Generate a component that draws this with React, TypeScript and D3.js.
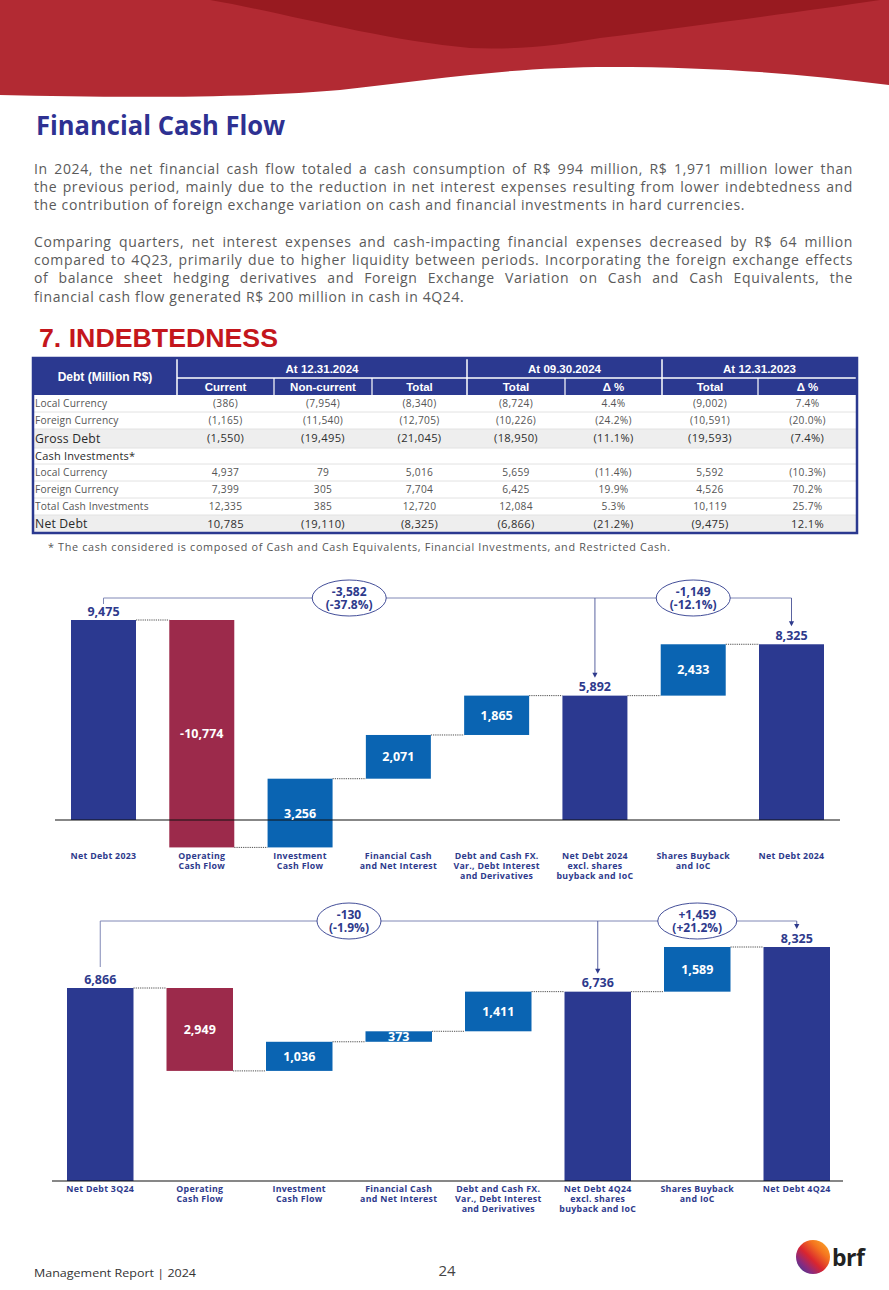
import React, { useEffect, useRef } from 'react';
import * as d3 from 'd3';

const W = 889;
const H = 1290;

// ---------- Text content ----------
const titleText = 'Financial Cash Flow';
const sectionTitle = '7. INDEBTEDNESS';
const para1Lines = [
  'In 2024, the net financial cash flow totaled a cash consumption of R$ 994 million, R$ 1,971 million lower than',
  'the previous period, mainly due to the reduction in net interest expenses resulting from lower indebtedness and',
  'the contribution of foreign exchange variation on cash and financial investments in hard currencies.',
];
const para2Lines = [
  'Comparing quarters, net interest expenses and cash-impacting financial expenses decreased by R$ 64 million',
  'compared to 4Q23, primarily due to higher liquidity between periods. Incorporating the foreign exchange effects',
  'of balance sheet hedging derivatives and Foreign Exchange Variation on Cash and Cash Equivalents, the',
  'financial cash flow generated R$ 200 million in cash in 4Q24.',
];
const footnote = '* The cash considered is composed of Cash and Cash Equivalents, Financial Investments, and Restricted Cash.';
const footerLeft = 'Management Report | 2024';
const pageNumber = '24';

// ---------- Table data ----------
const tableCorner = 'Debt (Million R$)';
const tableGroups = ['At 12.31.2024', 'At 09.30.2024', 'At 12.31.2023'];
const tableGroupSpans = [3, 2, 2];
const tableSubHeaders = ['Current', 'Non-current', 'Total', 'Total', 'Δ %', 'Total', 'Δ %'];
const rowLabels = ['Local Currency', 'Foreign Currency', 'Gross Debt', 'Cash Investments*', 'Local Currency', 'Foreign Currency', 'Total Cash Investments', 'Net Debt'];
const rowKinds = ['normal', 'normal', 'strong', 'section', 'normal', 'normal', 'normal', 'strong'];
const colCurrent = ['(386)', '(1,165)', '(1,550)', '', '4,937', '7,399', '12,335', '10,785'];
const colNonCurrent = ['(7,954)', '(11,540)', '(19,495)', '', '79', '305', '385', '(19,110)'];
const colTotal2024 = ['(8,340)', '(12,705)', '(21,045)', '', '5,016', '7,704', '12,720', '(8,325)'];
const colTotal0924 = ['(8,724)', '(10,226)', '(18,950)', '', '5,659', '6,425', '12,084', '(6,866)'];
const colDelta0924 = ['4.4%', '(24.2%)', '(11.1%)', '', '(11.4%)', '19.9%', '5.3%', '(21.2%)'];
const colTotal1223 = ['(9,002)', '(10,591)', '(19,593)', '', '5,592', '4,526', '10,119', '(9,475)'];
const colDelta1223 = ['7.4%', '(20.0%)', '(7.4%)', '', '(10.3%)', '70.2%', '25.7%', '12.1%'];
const tableColumns = [colCurrent, colNonCurrent, colTotal2024, colTotal0924, colDelta0924, colTotal1223, colDelta1223];

// ---------- Waterfall 1 (annual) ----------
const wf1Categories = [
  ['Net Debt 2023'],
  ['Operating', 'Cash Flow'],
  ['Investment', 'Cash Flow'],
  ['Financial Cash', 'and Net Interest'],
  ['Debt and Cash FX.', 'Var., Debt Interest', 'and Derivatives'],
  ['Net Debt 2024', 'excl. shares', 'buyback and IoC'],
  ['Shares Buyback', 'and IoC'],
  ['Net Debt 2024'],
];
const wf1Values = [9475, -10774, 3256, 2071, 1865, 5892, 2433, 8325];
const wf1Kinds = ['total', 'neg', 'pos', 'pos', 'pos', 'total', 'pos', 'total'];
const wf1Labels = ['9,475', '-10,774', '3,256', '2,071', '1,865', '5,892', '2,433', '8,325'];
const wf1Brackets = [
  { from: 0, to: 5, lines: ['-3,582', '(-37.8%)'] },
  { from: 5, to: 7, lines: ['-1,149', '(-12.1%)'] },
];

// ---------- Waterfall 2 (quarterly) ----------
const wf2Categories = [
  ['Net Debt 3Q24'],
  ['Operating', 'Cash Flow'],
  ['Investment', 'Cash Flow'],
  ['Financial Cash', 'and Net Interest'],
  ['Debt and Cash FX.', 'Var., Debt Interest', 'and Derivatives'],
  ['Net Debt 4Q24', 'excl. shares', 'buyback and IoC'],
  ['Shares Buyback', 'and IoC'],
  ['Net Debt 4Q24'],
];
const wf2Values = [6866, -2949, 1036, 373, 1411, 6736, 1589, 8325];
const wf2Kinds = ['total', 'neg', 'pos', 'pos', 'pos', 'total', 'pos', 'total'];
const wf2Labels = ['6,866', '2,949', '1,036', '373', '1,411', '6,736', '1,589', '8,325'];
const wf2Brackets = [
  { from: 0, to: 5, lines: ['-130', '(-1.9%)'] },
  { from: 5, to: 7, lines: ['+1,459', '(+21.2%)'] },
];

// ---------- Styles ----------
const NAVY = '#2b3990';
const LABEL_BLUE = '#2e3a8c';
const RED_BAR = '#9c2a4b';
const BLUE_BAR = '#0a64b2';
const BODY_FONT = '"Open Sans", "DejaVu Sans", sans-serif';
const HEAD_FONT = '"Liberation Sans", Arial, sans-serif';

type WFLayout = {
  x0: number; x1: number; padInner: number;
  yBase: number; yTop: number;
  axisX0: number; axisX1: number;
  bracketY: number; catY: number;
  startDrop: number; rx: number[];
};

function Waterfall({ categories, values, kinds, labels, brackets, L }: any) {
  const lay: WFLayout = L;
  const n = values.length;
  const x = d3.scaleBand<number>().domain(d3.range(n)).range([lay.x0, lay.x1]).paddingInner(lay.padInner).paddingOuter(0);
  const topVal = values[0] > values[n - 1] ? values[0] : values[n - 1];
  const y = d3.scaleLinear().domain([0, topVal]).range([lay.yBase, lay.yTop]);
  const bw = x.bandwidth();
  let run = 0;
  const bars = values.map((v: number, i: number) => {
    if (kinds[i] === 'total') { run = v; return { start: 0, end: v }; }
    const b = { start: run, end: run + v }; run += v; return b;
  });
  const cx = (i: number) => (x(i) as number) + bw / 2;
  const top = (i: number) => y(Math.max(bars[i].start, bars[i].end));
  const color = (k: string) => (k === 'total' ? NAVY : k === 'neg' ? RED_BAR : BLUE_BAR);
  const firstFrom = brackets[0].from;
  const lastTo = brackets[brackets.length - 1].to;
  return (
    <g>
      {/* bracket line */}
      <line x1={cx(firstFrom)} x2={cx(lastTo)} y1={lay.bracketY} y2={lay.bracketY} stroke="#8088b6" strokeWidth={1} />
      <line x1={cx(firstFrom)} x2={cx(firstFrom)} y1={lay.bracketY} y2={top(firstFrom) - lay.startDrop} stroke="#8088b6" strokeWidth={1} />
      {brackets.map((b: any, k: number) => {
        const tip = top(b.to) - 18;
        const ax = cx(b.to);
        return (
          <g key={'arr' + k}>
            <line x1={ax} x2={ax} y1={lay.bracketY} y2={tip - 4} stroke="#5a63a0" strokeWidth={1} />
            <path d={`M${ax - 2.6},${tip - 5} L${ax + 2.6},${tip - 5} L${ax},${tip} Z`} fill={LABEL_BLUE} />
          </g>
        );
      })}
      {brackets.map((b: any, k: number) => {
        const mx = (cx(b.from) + cx(b.to)) / 2;
        return (
          <g key={'ell' + k}>
            <ellipse cx={mx} cy={lay.bracketY} rx={lay.rx[k]} ry={18} fill="#fff" stroke={LABEL_BLUE} strokeWidth={0.9} />
            <text textAnchor="middle" fontFamily={BODY_FONT} fontWeight={700} fontSize={12} fill={LABEL_BLUE}>
              <tspan x={mx} y={lay.bracketY - 2.5}>{b.lines[0]}</tspan>
              <tspan x={mx} y={lay.bracketY + 10.5}>{b.lines[1]}</tspan>
            </text>
          </g>
        );
      })}
      {/* connectors */}
      {bars.slice(0, n - 1).map((b: any, i: number) => (
        <line key={'c' + i} x1={(x(i) as number) + bw} x2={x(i + 1) as number} y1={y(b.end)} y2={y(b.end)} stroke="#222" strokeWidth={0.8} strokeDasharray="1.2,1" />
      ))}
      {/* bars */}
      {bars.map((b: any, i: number) => {
        const y0 = y(Math.max(b.start, b.end));
        const y1 = y(Math.min(b.start, b.end));
        return <rect key={'b' + i} x={x(i) as number} y={y0} width={bw} height={y1 - y0} fill={color(kinds[i])} />;
      })}
      {/* axis */}
      <line x1={lay.axisX0} x2={lay.axisX1} y1={lay.yBase} y2={lay.yBase} stroke="#111" strokeWidth={1.2} />
      {/* value labels */}
      {bars.map((b: any, i: number) => {
        if (kinds[i] === 'total') {
          return <text key={'v' + i} x={cx(i)} y={top(i) - 4.5} textAnchor="middle" fontFamily={BODY_FONT} fontWeight={700} fontSize={12.5} fill={LABEL_BLUE}>{labels[i]}</text>;
        }
        const mid = (y(b.start) + y(b.end)) / 2;
        return <text key={'v' + i} x={cx(i)} y={mid} dy="0.36em" textAnchor="middle" fontFamily={BODY_FONT} fontWeight={700} fontSize={12.5} fill="#fff">{labels[i]}</text>;
      })}
      {/* category labels */}
      {categories.map((lines: string[], i: number) => (
        <text key={'k' + i} textAnchor="middle" fontFamily={BODY_FONT} fontWeight={700} fontSize={8.8} letterSpacing={0.3} fill={LABEL_BLUE}>
          {lines.map((t, j) => <tspan key={j} x={cx(i)} y={lay.catY + j * 10}>{t}</tspan>)}
        </text>
      ))}
    </g>
  );
}

const wf1Layout: WFLayout = { x0: 71, x1: 824, padInner: 0.3387, yBase: 820, yTop: 620, axisX0: 55, axisX1: 840, bracketY: 598, catY: 859, startDrop: 16, rx: [37, 37] };
const wf2Layout: WFLayout = { x0: 67, x1: 830, padInner: 0.3317, yBase: 1181, yTop: 947, axisX0: 52, axisX1: 843, bracketY: 921, catY: 1192, startDrop: 21, rx: [32, 39.5] };

function Table() {
  const colEdges = [33, 177, 274, 372, 467, 565, 662, 758, 857];
  const rowHeights = [17, 17, 19, 16, 17, 17, 17, 18];
  const headTop = 358, headMid = 378, headBot = 395;
  const rowTops: number[] = [];
  let acc = headBot;
  rowHeights.forEach((h) => { rowTops.push(acc); acc += h; });
  const bottom = acc;
  const groupEdges: number[] = [colEdges[1]];
  let gi = 1;
  tableGroupSpans.forEach((s) => { gi += s; groupEdges.push(colEdges[gi]); });
  return (
    <g>
      <rect x={33} y={headTop} width={824} height={headBot - headTop} fill={NAVY} />
      {rowKinds.map((k, i) => k === 'strong' ? <rect key={'bg' + i} x={33} y={rowTops[i]} width={824} height={rowHeights[i]} fill="#eeeeee" /> : null)}
      {rowTops.slice(1).map((t, i) => <line key={'rl' + i} x1={33} x2={857} y1={t} y2={t} stroke="#e2e2e2" strokeWidth={1} />)}
      {/* header separators */}
      <line x1={colEdges[1]} x2={857} y1={headMid} y2={headMid} stroke="#fff" strokeWidth={1.5} />
      {groupEdges.slice(0, -1).map((gx, i) => <line key={'gv' + i} x1={gx} x2={gx} y1={headTop} y2={headBot} stroke="#fff" strokeWidth={1.5} />)}
      {colEdges.slice(2, 8).filter((e) => !groupEdges.includes(e)).map((e, i) => <line key={'sv' + i} x1={e} x2={e} y1={headMid} y2={headBot} stroke="#fff" strokeWidth={1.2} />)}
      <text x={(colEdges[0] + colEdges[1]) / 2} y={(headTop + headBot) / 2} dy="0.35em" textAnchor="middle" fontFamily={HEAD_FONT} fontWeight={700} fontSize={12} fill="#fff">{tableCorner}</text>
      {tableGroups.map((g, i) => (
        <text key={'g' + i} x={(groupEdges[i] + groupEdges[i + 1]) / 2} y={(headTop + headMid) / 2 + 1} dy="0.35em" textAnchor="middle" fontFamily={HEAD_FONT} fontWeight={700} fontSize={11.5} fill="#fff">{g}</text>
      ))}
      {tableSubHeaders.map((s, i) => (
        <text key={'s' + i} x={(colEdges[i + 1] + colEdges[i + 2]) / 2} y={(headMid + headBot) / 2} dy="0.35em" textAnchor="middle" fontFamily={HEAD_FONT} fontWeight={700} fontSize={11.5} fill="#fff">{s}</text>
      ))}
      {rowLabels.map((lab, i) => {
        const k = rowKinds[i];
        const fs = k === 'strong' ? 12.2 : k === 'section' ? 11 : 10.2;
        return <text key={'l' + i} x={35} y={rowTops[i] + rowHeights[i] / 2} dy="0.35em" fontFamily={BODY_FONT} fontSize={fs} letterSpacing={k === 'normal' ? 0.15 : 0.2} fill={k === 'normal' ? '#555' : '#2a2a2a'}>{lab}</text>;
      })}
      {tableColumns.map((col, c) => col.map((v, r) => {
        const k = rowKinds[r];
        const fs = k === 'strong' ? 11.2 : 10.2;
        return <text key={'v' + c + '-' + r} x={(colEdges[c + 1] + colEdges[c + 2]) / 2} y={rowTops[r] + rowHeights[r] / 2} dy="0.35em" textAnchor="middle" fontFamily={BODY_FONT} fontSize={fs} letterSpacing={0.3} fill={k === 'strong' ? '#2e2e2e' : '#555'}>{v}</text>;
      }))}
      <rect x={33} y={headTop} width={824} height={bottom - headTop} fill="none" stroke={NAVY} strokeWidth={2.5} />
    </g>
  );
}

export default function App() {
  const svgRef = useRef<SVGSVGElement>(null);
  useEffect(() => {
    const svg = d3.select(svgRef.current);
    svg.selectAll<SVGTextElement, unknown>('text[data-justify]').each(function () {
      const el = this as SVGTextElement;
      const target = +(el.getAttribute('data-justify') as string);
      el.setAttribute('word-spacing', '0');
      const natural = el.getComputedTextLength();
      const spaces = (el.textContent || '').split(' ').length - 1;
      if (spaces > 0) el.setAttribute('word-spacing', String((target - natural) / spaces));
    });
  }, []);

  const paraX = 34;
  const paraW = 819;
  const lineGap = 18.2;
  const p1y = 173.5;
  const p2y = 247;
  const paraFs = 14;
  const paraLs = 0.62;

  return (
    <svg ref={svgRef} width={W} height={H} viewBox={`0 0 ${W} ${H}`} style={{ position: 'absolute', left: 0, top: 0, display: 'block', background: '#fff' }}>
      <defs>
        <linearGradient id="logoGrad" x1="1" y1="0" x2="0" y2="1">
          <stop offset="0" stopColor="#fcb62b" />
          <stop offset="0.3" stopColor="#f4731f" />
          <stop offset="0.55" stopColor="#d9252f" />
          <stop offset="0.75" stopColor="#8a2a7e" />
          <stop offset="1" stopColor="#23439b" />
        </linearGradient>
      </defs>
      <rect x={0} y={0} width={W} height={H} fill="#fff" />
      {/* header waves */}
      <path d="M0,0 H889 V85 C800,74 720,67 610,67 C510,67 430,80 340,90 C250,98 120,98 0,95 Z" fill="#b22a33" />
      <path d="M210,0 C280,12 380,40 470,48 C520,50 560,45 600,38 C700,25 800,12 880,0 Z" fill="#981a20" />

      {/* title */}
      <text x={36} y={135} fontFamily={BODY_FONT} fontWeight={700} fontSize={26} fill="#2e3192" textLength={249} lengthAdjust="spacingAndGlyphs">{titleText}</text>

      {/* paragraphs */}
      {para1Lines.map((t, i) => (
        <text key={'p1' + i} x={paraX} y={p1y + i * lineGap} fontFamily={BODY_FONT} fontSize={paraFs} letterSpacing={paraLs} fill="#5a5a5a" {...(i < para1Lines.length - 1 ? { 'data-justify': paraW } : {})}>{t}</text>
      ))}
      {para2Lines.map((t, i) => (
        <text key={'p2' + i} x={paraX} y={p2y + i * lineGap} fontFamily={BODY_FONT} fontSize={paraFs} letterSpacing={paraLs} fill="#5a5a5a" {...(i < para2Lines.length - 1 ? { 'data-justify': paraW } : {})}>{t}</text>
      ))}

      {/* section heading */}
      <text x={39} y={347} fontFamily={HEAD_FONT} fontWeight={700} fontSize={26} fill="#c4161c" textLength={239} lengthAdjust="spacingAndGlyphs">{sectionTitle}</text>

      <Table />

      <text x={48} y={551} fontFamily={BODY_FONT} fontSize={10.8} fill="#555" textLength={622} lengthAdjust="spacing">{footnote}</text>

      <Waterfall categories={wf1Categories} values={wf1Values} kinds={wf1Kinds} labels={wf1Labels} brackets={wf1Brackets} L={wf1Layout} />
      <Waterfall categories={wf2Categories} values={wf2Values} kinds={wf2Kinds} labels={wf2Labels} brackets={wf2Brackets} L={wf2Layout} />

      {/* footer */}
      <text x={34} y={1277} fontFamily={BODY_FONT} fontSize={11.5} fill="#333" textLength={162} lengthAdjust="spacingAndGlyphs">{footerLeft}</text>
      <text x={447} y={1276} textAnchor="middle" fontFamily={BODY_FONT} fontSize={15} fill="#444">{pageNumber}</text>
      <circle cx={813} cy={1257} r={17} fill="url(#logoGrad)" />
      <text x={832} y={1266} fontFamily={BODY_FONT} fontWeight={700} fontSize={23} fill="#222" letterSpacing={-0.5}>brf</text>
    </svg>
  );
}
